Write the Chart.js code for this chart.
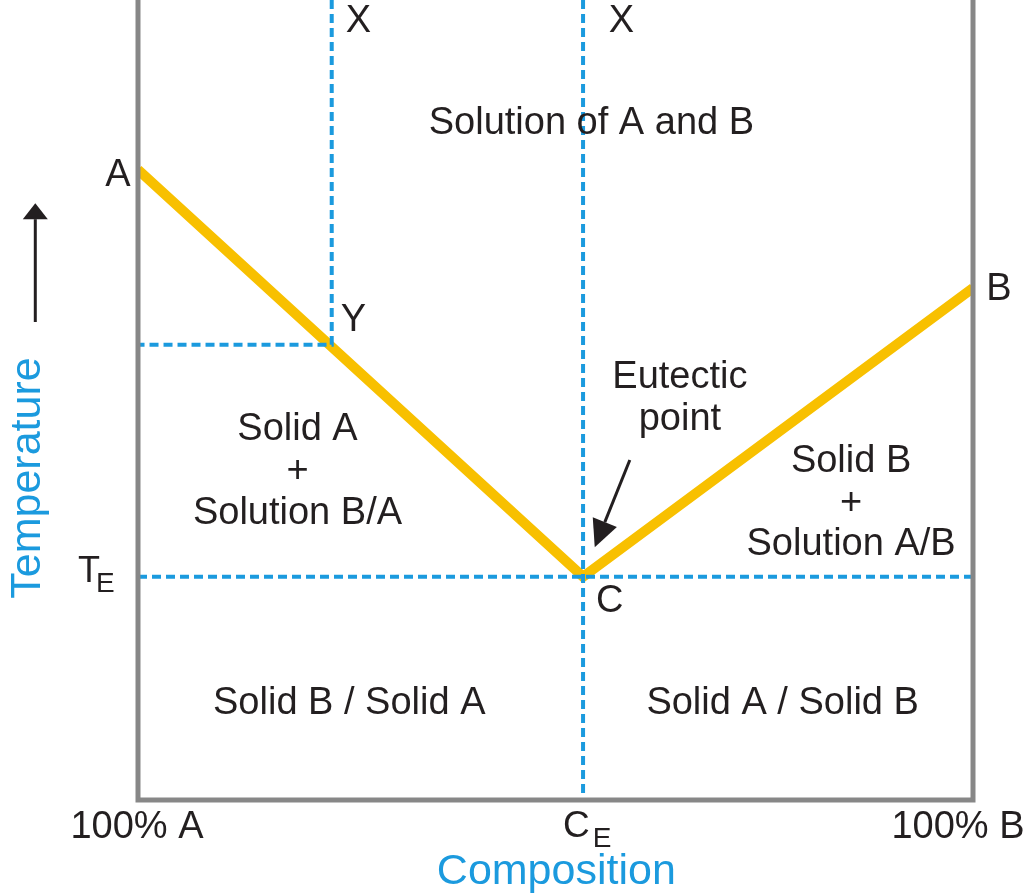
<!DOCTYPE html>
<html lang="en">
<head>
    <meta charset="UTF-8">
    <title>Eutectic Phase Diagram</title>
    <script src="https://cdn.jsdelivr.net/npm/chart.js"></script>
    <style>
        html, body {
            margin: 0;
            padding: 0;
            background: white;
        }
        #wrap {
            width: 1025px;
            height: 896px;
        }
    </style>
</head>
<body>
    <div id="wrap"><canvas id="chart" width="1025" height="896"></canvas></div>

    <script>
        // composition (% B) and temperature (relative units)
        const liquidusComp = [0, 53.3, 100];
        const liquidusTemp = [78.8, 27.9, 64];
        const eutecticComp = 53.3;
        const eutecticTemp = 27.9;
        const sampleComp = 23.2;
        const sampleTemp = 56.9;
        const frameComp = [0, 0, 100, 100];
        const frameTemp = [100, 0, 0, 100];
        const axisTicks = [0, 53.3, 100];
        const axisTickLabels = ['100% A', 'C', '100% B'];

        const ink = '#231f20';
        const blue = '#1b9ade';
        const font = '"Liberation Sans", Arial, sans-serif';

        const toPoints = (xs, ys) => xs.map((x, i) => ({ x: x, y: ys[i] }));

        // text labels placed in data units (x: composition, y: temperature)
        const labels = [
            { t: 'X', x: 26.4, y: 97.25 },
            { t: 'X', x: 57.9, y: 97.25 },
            { t: 'Solution of A and B', x: 54.3, y: 84.5 },
            { t: 'A', x: -2.4, y: 78.1 },
            { t: 'Y', x: 25.8, y: 59.9 },
            { t: 'B', x: 103.1, y: 63.75 },
            { t: 'Eutectic', x: 64.9, y: 52.75 },
            { t: 'point', x: 64.9, y: 47.5 },
            { t: 'Solid A', x: 19.1, y: 46.25 },
            { t: '+', x: 19.1, y: 41 },
            { t: 'Solution B/A', x: 19.1, y: 35.75 },
            { t: 'Solid B', x: 85.4, y: 42.25 },
            { t: '+', x: 85.4, y: 37.1 },
            { t: 'Solution A/B', x: 85.4, y: 31.9 },
            { t: 'C', x: 56.5, y: 24.75 },
            { t: 'Solid B / Solid A', x: 25.3, y: 12 },
            { t: 'Solid A / Solid B', x: 77.2, y: 12 }
        ];

        const annotations = {
            id: 'annotations',
            afterDraw(chart) {
                const ctx = chart.ctx;
                const xs = chart.scales.x;
                const ys = chart.scales.y;
                const px = v => xs.getPixelForValue(v);
                const py = v => ys.getPixelForValue(v);

                ctx.save();
                ctx.textBaseline = 'middle';
                ctx.textAlign = 'center';
                ctx.fillStyle = ink;
                ctx.font = '38px ' + font;
                labels.forEach(l => ctx.fillText(l.t, px(l.x), py(l.y)));

                // T with subscript E
                ctx.textAlign = 'left';
                ctx.textBaseline = 'alphabetic';
                ctx.font = '36px ' + font;
                const tx = px(-7.2), ty = py(27.25);
                ctx.fillText('T', tx, ty);
                ctx.font = '28px ' + font;
                ctx.fillText('E', tx + ctx.measureText('T').width + 1, ty + 10);

                // axis tick labels
                ctx.textAlign = 'center';
                ctx.textBaseline = 'middle';
                ctx.font = '38px ' + font;
                axisTicks.forEach((v, i) => {
                    if (i === 1) return;
                    ctx.fillText(axisTickLabels[i], px(v) + (i === 0 ? -1 : -15), py(-3.5));
                });
                // C with subscript E
                ctx.textAlign = 'left';
                ctx.textBaseline = 'alphabetic';
                ctx.font = '37px ' + font;
                const cw = ctx.measureText('C').width;
                const cx = px(axisTicks[1]) - 20;
                const cy = py(-4.6);
                ctx.fillText(axisTickLabels[1], cx, cy);
                ctx.font = '28px ' + font;
                ctx.fillText('E', cx + cw + 3, cy + 10);

                // axis titles
                ctx.fillStyle = blue;
                ctx.textAlign = 'center';
                ctx.textBaseline = 'middle';
                ctx.font = '43px ' + font;
                ctx.fillText('Composition', px(50.1), py(-9));
                ctx.save();
                ctx.translate(px(-13.2), py(40.25));
                ctx.rotate(-Math.PI / 2);
                ctx.fillText('Temperature', 0, 0);
                ctx.restore();

                // arrows
                const arrow = (x1, y1, x2, y2, head, half) => {
                    const a = Math.atan2(y2 - y1, x2 - x1);
                    const bx = x2 - head * Math.cos(a), by = y2 - head * Math.sin(a);
                    ctx.strokeStyle = ink;
                    ctx.fillStyle = ink;
                    ctx.lineWidth = 3;
                    ctx.beginPath();
                    ctx.moveTo(x1, y1);
                    ctx.lineTo(bx, by);
                    ctx.stroke();
                    ctx.beginPath();
                    ctx.moveTo(x2, y2);
                    ctx.lineTo(bx + half * Math.sin(a), by - half * Math.cos(a));
                    ctx.lineTo(bx - half * Math.sin(a), by + half * Math.cos(a));
                    ctx.closePath();
                    ctx.fill();
                };
                arrow(px(-12.3), py(59.75), px(-12.3), py(74.6), 16, 12.5);
                arrow(px(58.9), py(42.5), px(54.7), py(31.6), 27, 13);
                ctx.restore();
            }
        };

        new Chart(document.getElementById('chart'), {
            type: 'scatter',
            data: {
                datasets: [
                    {
                        label: 'frame',
                        data: toPoints(frameComp, frameTemp),
                        showLine: true,
                        borderColor: '#878787',
                        borderWidth: 5,
                        pointRadius: 0,
                        clip: false,
                        order: 0
                    },
                    {
                        label: 'sample',
                        data: [
                            { x: sampleComp, y: 100 },
                            { x: sampleComp, y: sampleTemp },
                            { x: 0, y: sampleTemp }
                        ],
                        showLine: true,
                        borderColor: blue,
                        borderWidth: 4,
                        borderDash: [9, 5],
                        pointRadius: 0,
                        order: 1
                    },
                    {
                        label: 'eutectic composition',
                        data: [{ x: eutecticComp, y: 100 }, { x: eutecticComp, y: 0 }],
                        showLine: true,
                        borderColor: blue,
                        borderWidth: 4,
                        borderDash: [9, 5],
                        pointRadius: 0,
                        order: 1
                    },
                    {
                        label: 'eutectic temperature',
                        data: [{ x: 0, y: eutecticTemp }, { x: 100, y: eutecticTemp }],
                        showLine: true,
                        borderColor: blue,
                        borderWidth: 4,
                        borderDash: [9, 5],
                        pointRadius: 0,
                        order: 1
                    },
                    {
                        label: 'liquidus',
                        data: toPoints(liquidusComp, liquidusTemp),
                        showLine: true,
                        borderColor: '#f8c000',
                        borderWidth: 10,
                        borderJoinStyle: 'miter',
                        pointRadius: 0,
                        order: 2
                    }
                ]
            },
            options: {
                responsive: false,
                animation: false,
                layout: {
                    padding: { left: 138, right: 52, top: 0, bottom: 96 }
                },
                plugins: {
                    legend: { display: false },
                    tooltip: { enabled: false }
                },
                scales: {
                    x: { type: 'linear', min: 0, max: 100, display: false },
                    y: { type: 'linear', min: 0, max: 100, display: false }
                }
            },
            plugins: [annotations]
        });
    </script>
</body>
</html>
